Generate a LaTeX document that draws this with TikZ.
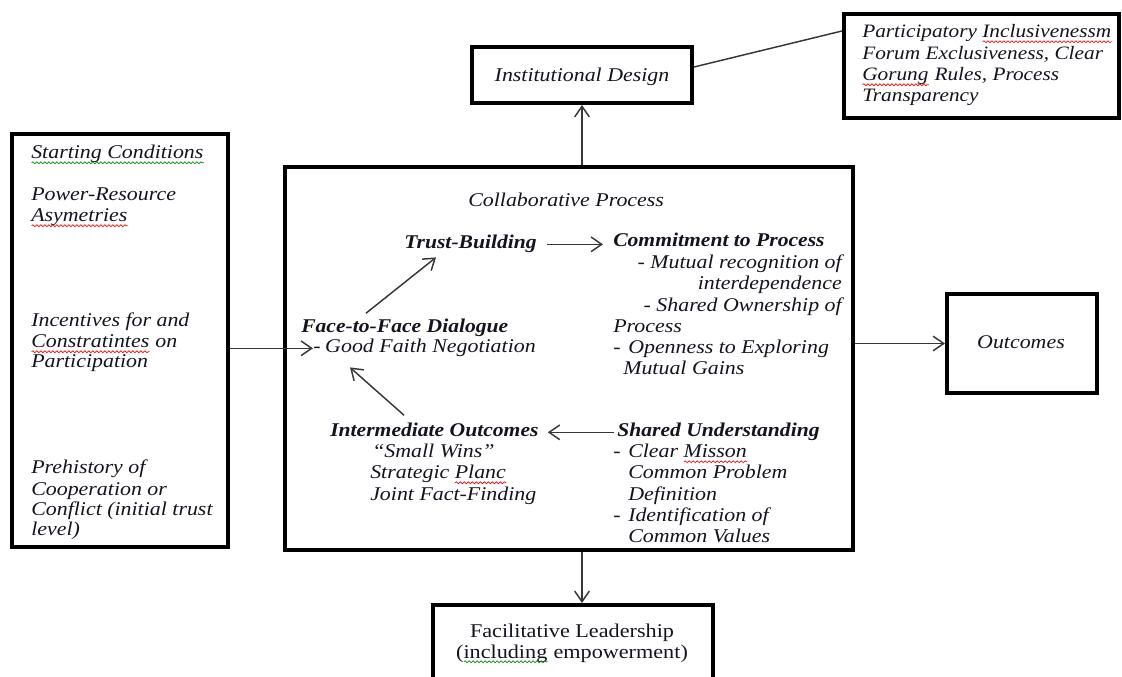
\documentclass[tikz,border=0pt]{standalone}
\usepackage{fontspec}
\setmainfont{Liberation Serif}[FakeStretch=1.14,ItalicFeatures={FakeStretch=1.125},BoldItalicFeatures={FakeStretch=1.11}]
\usetikzlibrary{arrows.meta,calc,decorations.pathmorphing}
\definecolor{linegray}{RGB}{55,55,55}
\definecolor{txtc}{RGB}{20,20,30}
\newdimen\sqw
\newcommand\sq[2]{\setbox0=\hbox{#2}\sqw=\wd0\rlap{\copy0}\tikz[baseline=0pt,x=1pt,y=1pt]{\draw[draw=#1,line width=0.5pt,decorate,decoration={snake,amplitude=0.7pt,segment length=3pt}] (0pt,-2.8pt) -- (\sqw,-2.8pt);}}
\newcommand\fs{\fontsize{14.6pt}{15.75pt}\selectfont}
\newcommand\fsp{\fontsize{14.2pt}{15.75pt}\selectfont}
\newcommand\dash[1]{\makebox[#1][l]{-}}
\tikzset{
  box/.style 2 args={draw=black, line width=3pt, minimum width=#1*0.75pt, minimum height=#2*0.75pt, inner sep=0pt},
  txt/.style={anchor=base west, inner sep=0pt, text=txtc, font=\fs\itshape},
  txtp/.style={anchor=base west, inner sep=0pt, text=txtc, font=\fsp\itshape},
  txtr/.style={anchor=base east, inner sep=0pt, text=txtc, font=\fs\itshape},
  txtb/.style={anchor=base west, inner sep=0pt, text=txtc, font=\fs\bfseries\itshape},
  txtc/.style={anchor=base, inner sep=0pt, text=txtc, font=\fs\itshape},
  txtu/.style={anchor=base, inner sep=0pt, text=txtc, font=\fs},
  conn/.style={draw=linegray, line width=1.1pt},
  arr/.style={conn, -{Straight Barb[length=8pt,width=11pt]}}
}
\begin{document}
\begin{tikzpicture}[x=0.75pt,y=-0.75pt]
\useasboundingbox (0,0) rectangle (1122,677);
% boxes
\node[box={216}{413}] (left) at (120,340.5) {};
\node[box={568}{383}] (central) at (569,358.5) {};
\node[box={220}{56}] (inst) at (582,75) {};
\node[box={275}{104}] (part) at (981.5,66) {};
\node[box={150}{99}] (outc) at (1022,343.5) {};
\node[box={280}{95}] (facil) at (573,652.5) {};
% left box text
\node[txt] (sc) at (31,159) {\sq{green!55!black}{Starting Conditions}};
\node[txt] (l1) at (31,201) {Power-Resource};
\node[txt] (l2) at (31,222) {\sq{red}{Asymetries}};
\node[txt] (l3) at (31,327) {Incentives for and};
\node[txt] (l4) at (31,348) {\sq{red}{Constratintes} on};
\node[txt] (l5) at (31,368) {Participation};
\node[txt] (l6) at (31,474) {Prehistory of};
\node[txt] (l7) at (31,495) {Cooperation or};
\node[txt] (l8) at (31,515) {Conflict (initial trust};
\node[txt] (l9) at (31,535) {level)};
% central text
\node[txt] (cpt) at (468,207) {Collaborative Process};
\node[txtb] (trust) at (404,249) {Trust-Building};
\node[txtb] (commit) at (613,247) {Commitment to Process};
\node[txtr] (c1) at (842,269) {- Mutual recognition of};
\node[txtr] (c2) at (842,290) {interdependence};
\node[txtr] (c3) at (842,312) {- Shared Ownership of};
\node[txt] (c4) at (613,333) {Process};
\node[txt] (c5) at (613,354) {\dash{11.25pt}Openness to Exploring};
\node[txt] (c6) at (623,375) {Mutual Gains};
\node[txtb] (face) at (301,333) {Face-to-Face Dialogue};
\node[txt] (good) at (313,353) {\dash{9pt}Good Faith Negotiation};
\node[txtb] (inter) at (330,437) {Intermediate Outcomes};
\node[txt] (i1) at (372,458) {“Small Wins”};
\node[txt] (i2) at (370,479) {Strategic \sq{red}{Planc}};
\node[txt] (i3) at (370,500) {Joint Fact-Finding};
\node[txtb] (shared) at (617,437) {Shared Understanding};
\node[txt] (s1) at (613,458) {\dash{11.25pt}Clear \sq{red}{Misson}};
\node[txt] (s2) at (628,479) {Common Problem};
\node[txt] (s3) at (628,500) {Definition};
\node[txt] (s4) at (613,521) {\dash{11.25pt}Identification of};
\node[txt] (s5) at (628,542) {Common Values};
% other texts
\node[txtc] (instt) at (582,82) {Institutional Design};
\node[txtp] (p1) at (862,38) {Participatory \sq{red}{Inclusivenessm}};
\node[txtp] (p2) at (862,60) {Forum Exclusiveness, Clear};
\node[txtp] (p3) at (862,81) {\sq{red}{Gorung} Rules, Process};
\node[txtp] (p4) at (862,102) {Transparency};
\node[txtc] (outt) at (1021,349) {Outcomes};
\node[txtu] (f1) at (572,637) {Facilitative Leadership};
\node[txtu] (f2) at (572,658) {(\sq{green!55!black}{including} empowerment)};
% connectors
\draw[arr] (good.west -| left.east) -- (good.west);
\draw[arr] (central.north -| inst.south) -- (inst.south);
\draw[arr] (central.south -| inst.south) -- (facil.north -| inst.south);
\draw[arr] (central.east |- outc.west) -- (outc.west);
\draw[conn] ($(inst.east)+(0,-8)$) -- ($(part.west)+(0,-35)$);
\draw[arr, shorten <=7.5pt, shorten >=7.5pt] (trust.east) -- (trust.east -| commit.west);
\draw[arr, shorten <=2pt, shorten >=6.75pt] (shared.west) -- (shared.west -| inter.east);
\draw[arr] ($(face.north west)+(65,-6)$) -- ($(trust.south west)+(32,4)$);
\draw[arr] ($(inter.north west)+(74,-8)$) -- ($(good.south west)+(37,10)$);
\end{tikzpicture}
\end{document}
